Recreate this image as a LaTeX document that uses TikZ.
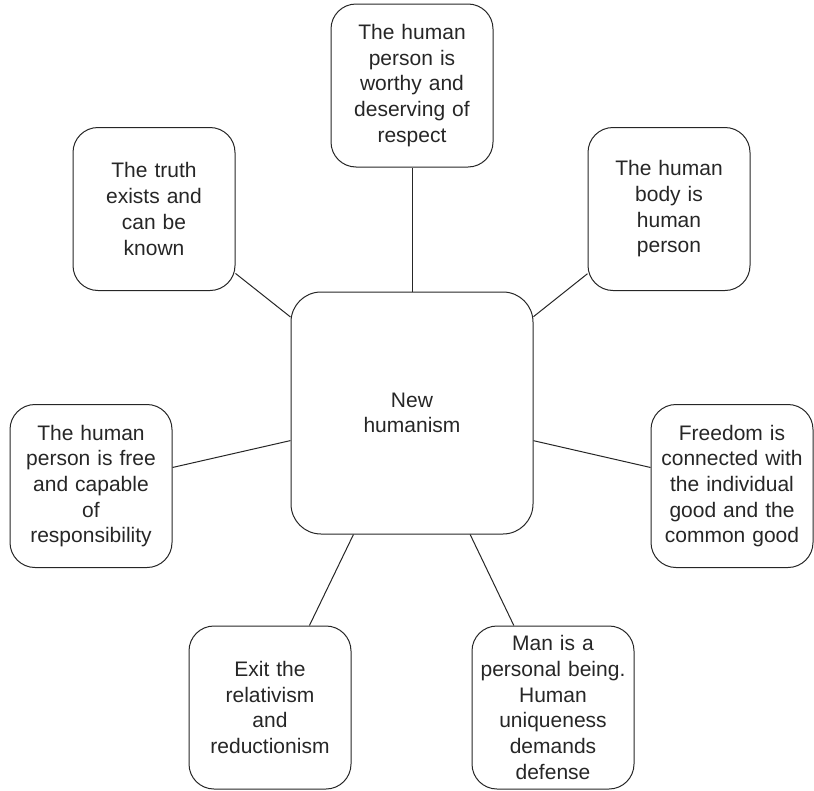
\documentclass[tikz,border=0pt]{standalone}
\usepackage{fontspec}
\setmainfont{Liberation Sans}
\usetikzlibrary{positioning}

\begin{document}
\begin{tikzpicture}[
  font=\fontsize{21}{25.7}\selectfont,
  color=black!85,
  hub/.style={draw, line width=1pt, rounded corners=30pt, minimum width=242pt, minimum height=242pt, align=center, inner sep=0pt},
  idea/.style={draw, line width=1pt, rounded corners=25pt, minimum width=162pt, minimum height=163pt, text width=156pt, align=center, inner sep=0pt},
  link/.style={line width=1pt},
]
\useasboundingbox (0,0) rectangle (814pt,-790pt);
\node[hub] (hub) at (412pt,-413pt) {New\\humanism};
\node[idea, above=124pt of hub] (respect) {The human\\person is\\worthy and\\deserving of\\respect};
\node[idea, left=55pt of hub, yshift=204pt] (truth) {The truth\\exists and\\can be\\known};
\node[idea, right=54pt of hub, yshift=204pt] (body) {The human\\body is\\human\\person};
\node[idea, left=118pt of hub, yshift=-73pt] (free) {The human\\person is free\\and capable\\of\\responsibility};
\node[idea, right=117pt of hub, yshift=-73pt] (good) {Freedom is\\connected with\\the individual\\good and the\\common good};
\node[idea, below=91pt of hub, xshift=-142pt] (exit) {Exit the\\relativism\\and\\reductionism};
\node[idea, below=91pt of hub, xshift=141pt] (being) {Man is a\\personal being.\\Human\\uniqueness\\demands\\defense};
\draw[link] (hub) -- (respect);
\draw[link] (hub) -- (truth);
\draw[link] (hub) -- (body);
\draw[link] (hub) -- (free);
\draw[link] (hub) -- (good);
\draw[link] (hub) -- (exit);
\draw[link] (hub) -- (being);
\end{tikzpicture}
\end{document}
